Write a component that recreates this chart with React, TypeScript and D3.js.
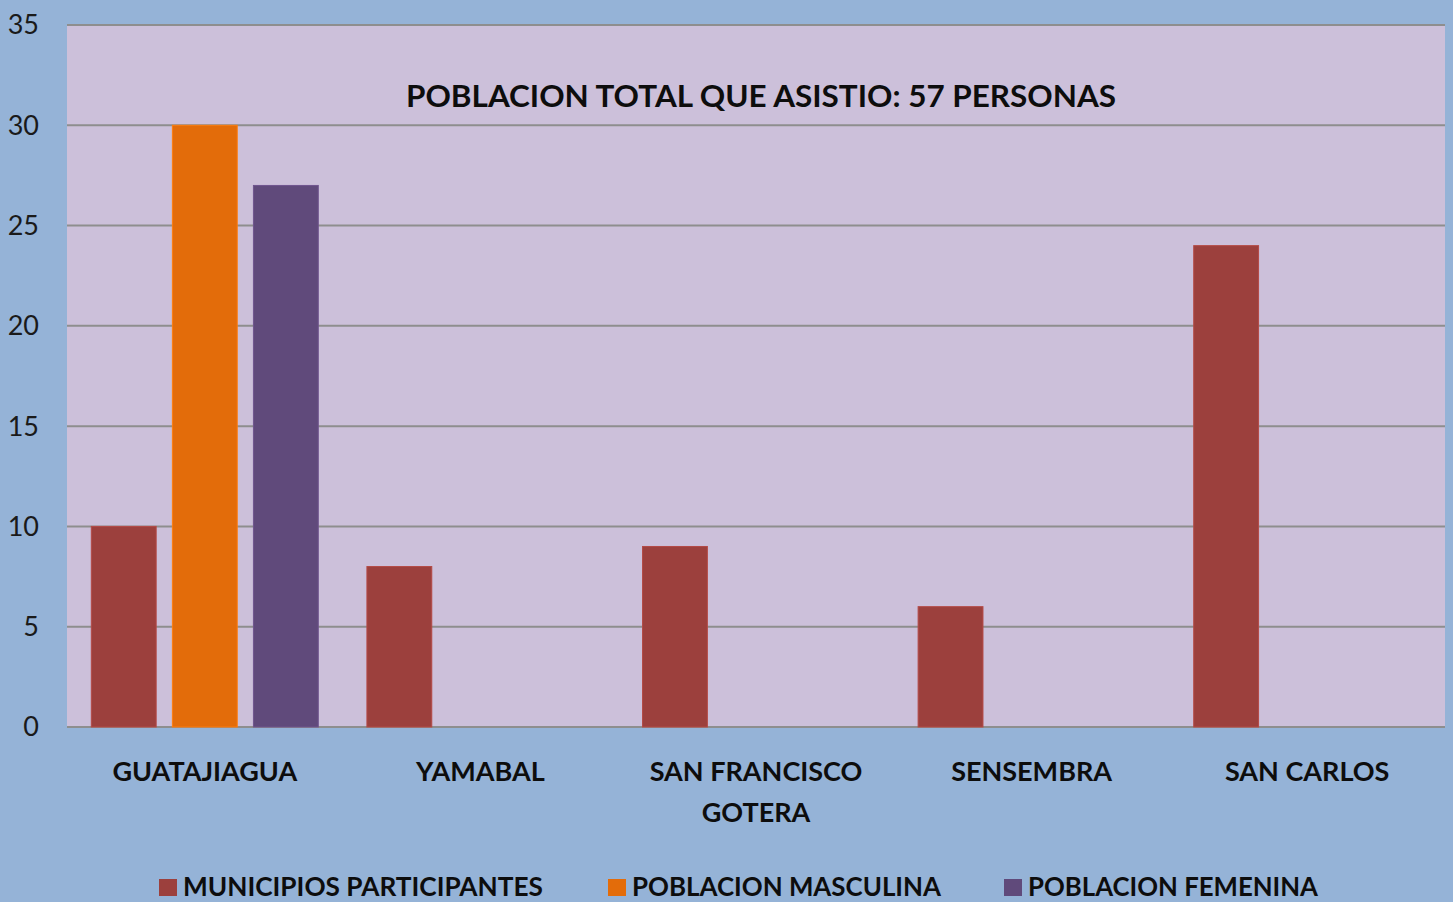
import React from 'react';
import * as d3 from 'd3';

const municipios = ['GUATAJIAGUA', 'YAMABAL', 'SAN FRANCISCO GOTERA', 'SENSEMBRA', 'SAN CARLOS'];
const seriesNames = ['MUNICIPIOS PARTICIPANTES', 'POBLACION MASCULINA', 'POBLACION FEMENINA'];
const seriesColors = ['#9c403d', '#e36c0a', '#604a7b'];
const participantes = [10, 8, 9, 6, 24];
const masculina = [30, null, null, null, null];
const femenina = [27, null, null, null, null];
const yTicks = [0, 5, 10, 15, 20, 25, 30, 35];
const titleText = 'POBLACION TOTAL QUE ASISTIO: 57 PERSONAS';

const W = 1453;
const H = 902;
const FONT = 'Lato, "Open Sans", sans-serif';

export default function App() {
  const left = 67, right = 1445, top = 25, bottom = 727;

  const x = d3.scaleBand().domain(municipios).range([left, right]).paddingInner(0).paddingOuter(0);
  const inner = d3
    .scaleBand()
    .domain(seriesNames)
    .range([0, x.bandwidth()])
    .paddingInner(0.2)
    .paddingOuter(0.3);
  const y = d3.scaleLinear().domain([0, 35]).range([bottom, top]);

  const series = [participantes, masculina, femenina];

  // SAN FRANCISCO GOTERA wraps in two lines
  const labelLines = (m) => (m === 'SAN FRANCISCO GOTERA' ? ['SAN FRANCISCO', 'GOTERA'] : [m]);

  const legendPos = [159, 608, 1004];
  const legendLen = [360, 309, 290];

  return (
    <div style={{ position: 'absolute', left: 0, top: 0 }}>
      <svg width={W} height={H} style={{ display: 'block' }}>
        <rect x={0} y={0} width={W} height={H} fill="#95b3d7" />
        <rect x={left} y={top} width={right - left} height={bottom - top} fill="#ccc0da" />

        {yTicks.map((t) => (
          <g key={t}>
            <line x1={left} x2={right} y1={y(t)} y2={y(t)} stroke="#8e8e8e" strokeWidth={2} />
            <text
              x={39}
              y={y(t)}
              dy="0.35em"
              textAnchor="end"
              fontFamily={FONT}
              fontSize={27}
              fill="#1a1a1a"
            >
              {t}
            </text>
          </g>
        ))}

        {series.map((vals, si) =>
          municipios.map((m, i) => {
            const v = vals[i];
            if (v == null) return null;
            const bx = x(m) + inner(seriesNames[si]);
            return (
              <rect
                key={si + '-' + i}
                x={bx}
                y={y(v)}
                width={inner.bandwidth()}
                height={y(0) - y(v)}
                fill={seriesColors[si]}
                stroke={d3.color(seriesColors[si]).brighter(0.4).toString()}
                strokeWidth={1}
              />
            );
          })
        )}

        <text
          x={(left + right) / 2 + 5}
          y={107}
          textAnchor="middle"
          fontFamily={FONT}
          fontWeight="bold"
          fontSize={31}
          textLength={710}
          lengthAdjust="spacingAndGlyphs"
          fill="#0d0d0d"
        >
          {titleText}
        </text>

        {municipios.map((m) =>
          labelLines(m).map((ln, li) => (
            <text
              key={m + li}
              x={x(m) + x.bandwidth() / 2}
              y={781 + li * 41}
              textAnchor="middle"
              fontFamily={FONT}
              fontWeight="bold"
              fontSize={27}
              fill="#0d0d0d"
            >
              {ln}
            </text>
          ))
        )}

        {seriesNames.map((s, i) => (
          <g key={s}>
            <rect x={legendPos[i]} y={879} width={18} height={17} fill={seriesColors[i]} />
            <text
              x={legendPos[i] + 24}
              y={896}
              fontFamily={FONT}
              fontWeight="bold"
              fontSize={26}
              textLength={legendLen[i]}
              lengthAdjust="spacingAndGlyphs"
              fill="#0d0d0d"
            >
              {s}
            </text>
          </g>
        ))}
      </svg>
    </div>
  );
}
